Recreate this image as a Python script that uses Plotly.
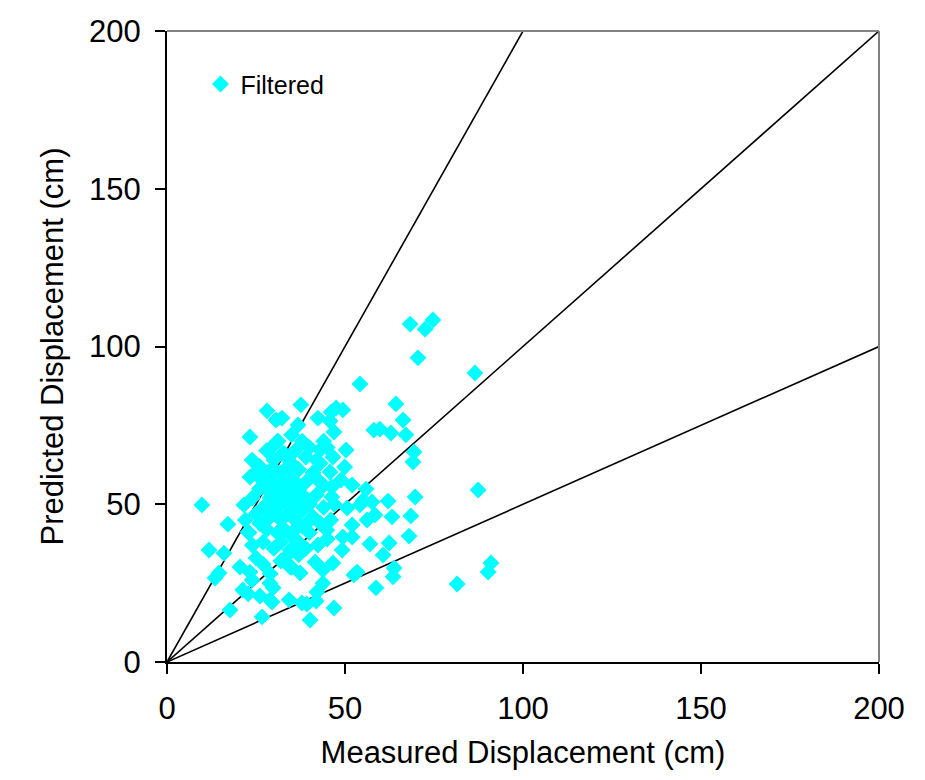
import plotly.graph_objects as go

# Measured (x) and predicted (y) displacements in cm
measured = [
    9.8, 11.8, 13.5, 14.6, 16.0, 17.1, 17.7, 20.5, 21.6, 22.8, 23.3, 23.9, 24.7, 26.1, 26.7,
    28.1, 29.5, 30.6, 32.3, 34.3, 37.6, 36.8, 42.4, 39.3, 40.2, 41.9, 46.9, 46.1, 47.5, 49.4,
    52.0, 54.2, 58.1, 59.8, 62.9, 64.3, 66.3, 67.1, 68.3, 70.5, 72.5, 74.7, 86.5, 87.4, 91.0,
    90.2, 81.5, 69.4, 69.1, 69.7, 68.5, 68.0, 63.2, 62.1, 63.8, 63.5, 62.4, 60.7, 58.7, 57.0,
    56.2, 57.6, 53.4, 52.5, 54.2, 55.9, 52.0, 50.3, 49.9, 48.9, 46.9, 45.8, 43.0,
    31.2, 28.9, 32.6, 29.8, 26.7, 34.6, 28.1, 23.3, 45.8, 46.6, 42.4, 46.3, 55.1, 46.3,
    22.8, 23.3, 23.9, 21.3, 28.9, 28.9, 37.9, 29.8,
    36.5, 40.2, 44.9, 42.4, 50.6, 52.0, 49.4, 49.2, 58.4, 41.6, 46.6, 43.8, 43.8, 42.1,
    34.6, 34.6, 37.4,
    24, 25, 26, 26, 27, 27, 28, 28, 29, 29,
    30, 30, 30, 31, 31, 31, 32, 32, 32, 33,
    33, 33, 34, 34, 34, 35, 35, 35, 36, 36,
    36, 37, 37, 37, 38, 38, 38, 39, 39, 40,
    40, 41, 41, 42, 43, 43, 44, 44, 45, 45,
    46, 47, 22, 23, 24, 25, 27, 29, 32, 35,
    37, 39, 26, 28, 31, 33, 35, 38, 40, 42,
    44, 30, 34, 36, 28, 32,
]
predicted = [
    49.8, 35.5, 26.6, 28.2, 34.5, 43.7, 16.5, 30.1, 49.8, 21.6, 71.3, 64.0, 59.9, 20.9, 14.3,
    79.6, 19.0, 76.7, 77.3, 19.7, 81.5, 75.1, 77.3, 18.4, 13.3, 19.3, 17.1, 79.2, 80.5, 79.9,
    56.1, 88.1, 73.5, 73.8, 72.6, 81.8, 76.7, 72.0, 107.1, 96.4, 105.5, 108.4, 91.6, 54.5, 31.4,
    28.5, 24.7, 66.6, 63.4, 52.3, 46.3, 39.9, 46.0, 51.0, 29.8, 27.0, 37.7, 33.9, 23.5, 37.4,
    45.0, 50.7, 28.5, 27.6, 49.8, 54.8, 39.6, 67.2, 61.8, 57.7, 72.9, 60.2, 67.2,
    70.0, 67.5, 66.2, 61.5, 57.7, 63.4, 54.5, 58.6, 76.4, 65.0, 57.7, 55.5, 51.3, 52.3,
    41.2, 28.5, 26.0, 22.8, 25.0, 19.7, 18.7, 23.5,
    49.8, 45.0, 41.8, 37.1, 48.8, 43.4, 39.6, 35.5, 46.6, 31.7, 31.4, 29.2, 25.0, 22.2,
    35.5, 30.1, 28.2,
    52, 47, 44, 55, 49, 38, 60, 42, 52, 46,
    36, 57, 64, 41, 49, 54, 45, 60, 38, 51,
    56, 42, 47, 62, 34, 53, 58, 40, 45, 67,
    50, 56, 38, 61, 48, 43, 53, 65, 57, 50,
    41, 60, 46, 53, 44, 63, 49, 56, 39, 68,
    45, 50, 45, 41, 37, 33, 31, 28, 32, 30,
    34, 36, 62, 67, 70, 66, 72, 70, 68, 64,
    70, 48, 55, 42, 45, 53,
]

# Reference lines: predicted = ratio x measured
ratio_lines = [2.0, 1.0, 0.5]
axis_max = 200
tick_vals = [0, 50, 100, 150, 200]

font_family = "Liberation Sans, Arial, sans-serif"

fig = go.Figure()

for r in ratio_lines:
    x_end = min(axis_max, axis_max / r)
    fig.add_trace(go.Scatter(
        x=[0, x_end], y=[0, x_end * r], mode="lines",
        line=dict(color="black", width=1.6), showlegend=False, hoverinfo="skip",
    ))

fig.add_trace(go.Scatter(
    x=measured, y=predicted, mode="markers", name="Filtered",
    marker=dict(symbol="diamond", color="#00FFFF", size=13, line=dict(width=0)),
))

# gray top/right frame
fig.add_shape(type="line", xref="paper", yref="paper", x0=0, x1=1, y0=1, y1=1,
              line=dict(color="#808080", width=2))
fig.add_shape(type="line", xref="paper", yref="paper", x0=1, x1=1, y0=0, y1=1,
              line=dict(color="#808080", width=2))

axis_common = dict(
    range=[0, axis_max], tickvals=tick_vals, showgrid=False, zeroline=False,
    showline=True, linecolor="black", linewidth=2, ticks="outside", ticklen=10,
    tickwidth=2, tickcolor="black", ticklabelstandoff=8,
    tickfont=dict(size=31, color="black", family=font_family),
)

fig.update_xaxes(title=dict(text="Measured Displacement (cm)",
                            font=dict(size=31, color="black", family=font_family), standoff=16),
                 **axis_common)
fig.update_yaxes(title=dict(text="Predicted Displacement (cm)",
                            font=dict(size=31, color="black", family=font_family), standoff=16),
                 **axis_common)

fig.update_layout(
    width=925, height=780,
    margin=dict(l=159, r=54, t=23, b=126, autoexpand=False),
    plot_bgcolor="white", paper_bgcolor="white",
    font=dict(family=font_family, color="black"),
    legend=dict(x=0.047, y=0.952, xanchor="left", yanchor="top",
                bgcolor="rgba(0,0,0,0)", font=dict(size=25, color="black", family=font_family)),
    showlegend=True,
)

fig.write_html("out.html")
